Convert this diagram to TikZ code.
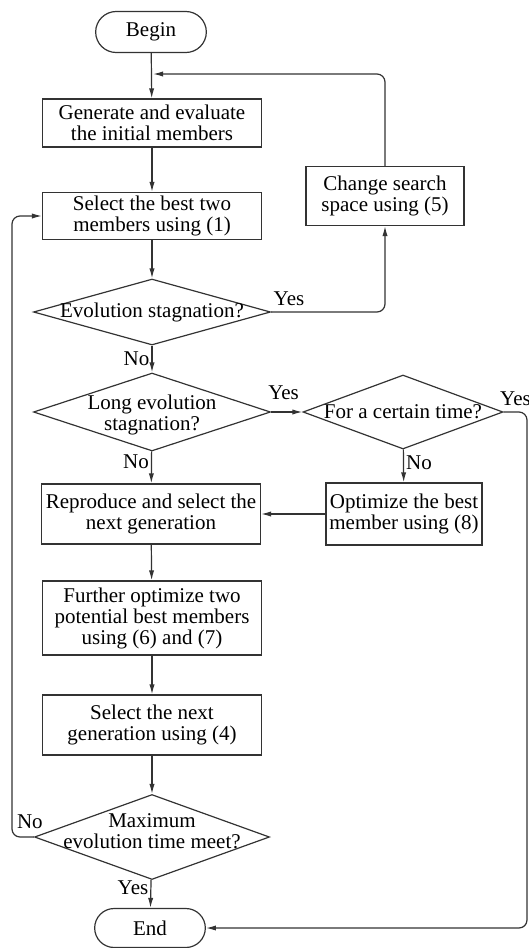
\documentclass[tikz,border=0pt]{standalone}
\usepackage{fontspec}
\setmainfont{Liberation Serif}
\usetikzlibrary{arrows.meta,shapes.geometric,shapes.misc}
\definecolor{LineClr}{rgb}{0.2,0.2,0.2}

\begin{document}
\begin{tikzpicture}[x=0.5pt,y=-0.5pt,
  font=\fontsize{10.5}{10.5}\selectfont,
  box/.style={draw=LineClr, line width=0.6pt, align=center, inner sep=1.5pt, minimum width=109.5pt},
  term/.style={draw=LineClr, line width=0.6pt, rounded rectangle, minimum width=62pt, minimum height=20.5pt},
  decision/.style={draw=LineClr, line width=0.6pt, diamond, inner sep=0pt},
  flow/.style={draw=LineClr, line width=0.6pt, -{Latex[length=5pt,width=2.6pt]}},
  lbl/.style={inner sep=1pt}]
\useasboundingbox (0,0) rectangle (529,948);

\node[term] (begin) at (151,32) {Begin};
\node[box, minimum height=24pt] (init) at (152,123) {Generate and evaluate\\the initial members};
\node[box, minimum height=23.5pt] (best) at (152,216) {Select the best two\\members using (1)};
\node[box, minimum width=79pt, minimum height=29.5pt] (space) at (385,196) {Change search\\space using (5)};
\node[decision, minimum width=118.5pt, minimum height=33pt,
  label={center:Evolution stagnation?}] (stag) at (152,312) {};
\node[decision, minimum width=118.5pt, minimum height=39pt,
  label={[align=center, yshift=-1.5pt]center:Long evolution\\stagnation?}] (long) at (152,412) {};
\node[decision, minimum width=100pt, minimum height=37pt,
  label={center:For a certain time?}] (time) at (403,412) {};
\node[box, minimum width=78pt, minimum height=31pt] (opt) at (404,514) {Optimize the best\\member using (8)};
\node[box, minimum height=30pt] (repro) at (151,514) {Reproduce and select the\\next generation};
\node[box, minimum height=37pt] (further) at (152,618) {Further optimize two\\potential best members\\using (6) and (7)};
\node[box, minimum height=30pt] (next) at (152,725) {Select the next\\generation using (4)};
\node[decision, minimum width=117.5pt, minimum height=42.5pt,
  label={[align=center, yshift=3pt]center:Maximum\\evolution time meet?}] (maxt) at (152,837) {};
\node[term, minimum height=19.5pt] (end) at (150,928) {End};

\coordinate (merge) at (153,74);
\coordinate (rside) at (527,0);
\coordinate (lside) at (12,0);

\draw[flow] (begin) -- (init);
\draw[flow, rounded corners=4pt] (space.north) |- (merge);
\draw[flow] (init) -- (best);
\draw[flow] (best) -- (stag);
\draw[flow, rounded corners=4pt] (stag.east) node[lbl, anchor=south west, yshift=2pt] (yes1) {Yes} -| (space.south);
\draw[flow] (stag) -- node[lbl, left] (no1) {No} (long);
\draw[flow] (long) -- node[lbl, above=5pt, pos=0.4] (yes2) {Yes} (time);
\draw[flow, rounded corners=4pt] (time.east) node[lbl, anchor=south west, xshift=-3pt, yshift=2pt] (yes3) {Yes}
  -- (time.east -| rside) |- (end.east);
\draw[flow] (time) -- node[lbl, right, pos=0.4] (no2) {No} (opt);
\draw[flow] (long) -- node[lbl, left, pos=0.32] (no3) {No} (repro);
\draw[flow] (opt) -- (repro);
\draw[flow] (repro) -- (further);
\draw[flow] (further) -- (next);
\draw[flow] (next) -- (maxt);
\draw[flow, rounded corners=4pt] (maxt.west) node[lbl, above=3pt, xshift=-2pt] (no4) {No}
  -- (maxt.west -| lside) |- (best.west);
\draw[flow] (maxt) -- node[lbl, left, pos=0.3] (yes4) {Yes} (end);

\end{tikzpicture}
\end{document}
